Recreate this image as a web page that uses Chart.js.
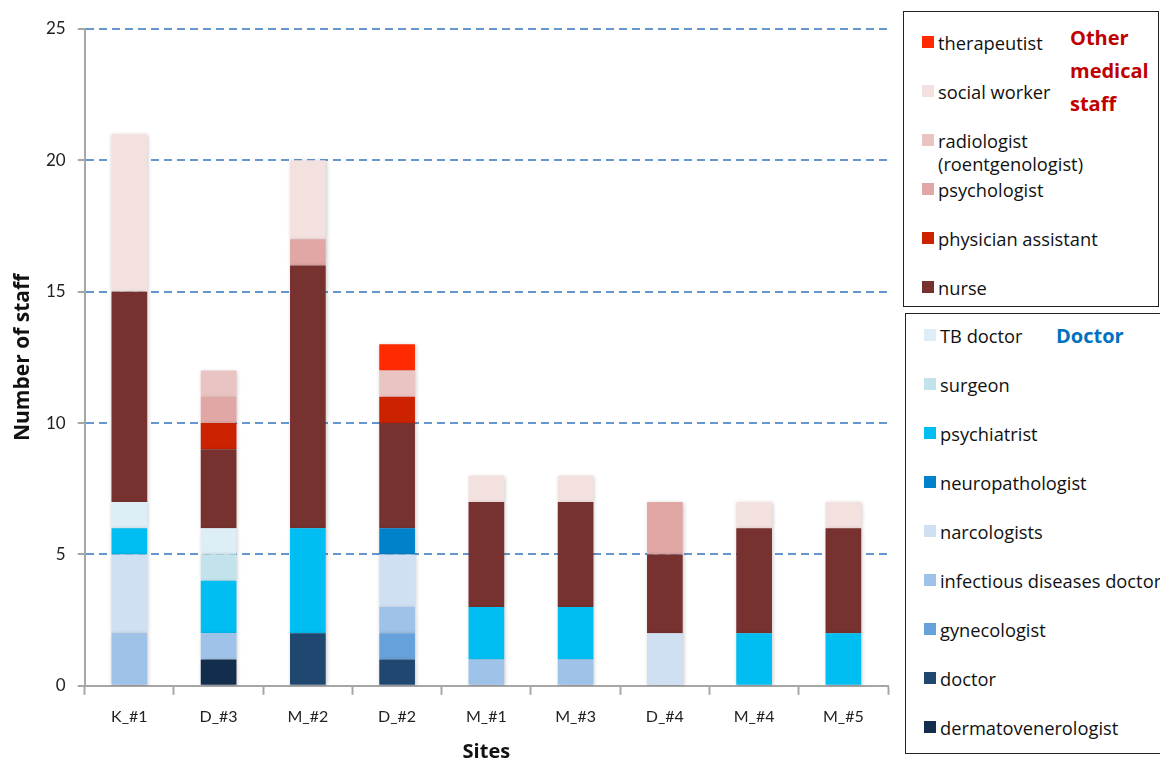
<!DOCTYPE html>
<html>
<head>
<meta charset="utf-8">
<script src="https://cdn.jsdelivr.net/npm/chart.js@4.4.1/dist/chart.umd.min.js"></script>
<style>
    body { margin: 0; background: #fff; font-family: "Open Sans", Lato, sans-serif; }
    #wrap { position: relative; width: 1160px; height: 760px; }
    #chart { position: absolute; left: 0; top: 0; }
    .legend-box {
        position: absolute;
        border: 1.5px solid #222;
        background: #fff;
        box-sizing: border-box;
        overflow: hidden;
    }
    .legend-item {
        position: absolute;
        left: 18px;
        font-size: 18.3px;
        color: #111;
        line-height: 23px;
        white-space: nowrap;
    }
    .legend-item i {
        position: absolute;
        left: 0;
        top: 5px;
        width: 12px;
        height: 12px;
    }
    .legend-item span { display: block; padding-left: 16px; }
    .group-title { position: absolute; font-weight: bold; font-size: 20px; line-height: 33px; }
</style>
</head>
<body>
<div id="wrap">
    <canvas id="chart" width="1160" height="760"></canvas>
    <div class="legend-box" id="legend-other" style="left:903px; top:11px; width:256px; height:296px;"></div>
    <div class="legend-box" id="legend-doctor" style="left:905px; top:313px; width:260px; height:441px;"></div>
</div>

<script>
// =========================================================================
// DATA
// =========================================================================

const sites = ['K_#1', 'D_#3', 'M_#2', 'D_#2', 'M_#1', 'M_#3', 'D_#4', 'M_#4', 'M_#5'];
const yTicks = [0, 5, 10, 15, 20, 25];

// doctors (bottom of each stack)
const dermatovenerologist = [0, 1, 0, 0, 0, 0, 0, 0, 0];
const doctor              = [0, 0, 2, 1, 0, 0, 0, 0, 0];
const gynecologist        = [0, 0, 0, 1, 0, 0, 0, 0, 0];
const infectiousDoctor    = [2, 1, 0, 1, 1, 1, 0, 0, 0];
const narcologists        = [3, 0, 0, 2, 0, 0, 2, 0, 0];
const neuropathologist    = [0, 0, 0, 1, 0, 0, 0, 0, 0];
const psychiatrist        = [1, 2, 4, 0, 2, 2, 0, 2, 2];
const surgeon             = [0, 1, 0, 0, 0, 0, 0, 0, 0];
const tbDoctor            = [1, 1, 0, 0, 0, 0, 0, 0, 0];

// other medical staff (top of each stack)
const nurse               = [8, 3, 10, 4, 4, 4, 3, 4, 4];
const physicianAssistant  = [0, 1, 0, 1, 0, 0, 0, 0, 0];
const psychologist        = [0, 1, 1, 0, 0, 0, 2, 0, 0];
const radiologist         = [0, 1, 0, 1, 0, 0, 0, 0, 0];
const socialWorker        = [6, 0, 3, 0, 1, 1, 0, 1, 1];
const therapeutist        = [0, 0, 0, 1, 0, 0, 0, 0, 0];

// stacking order, bottom to top
const doctorSeries = [
    { label: 'dermatovenerologist', data: dermatovenerologist, color: '#132D4C' },
    { label: 'doctor', data: doctor, color: '#1F4770' },
    { label: 'gynecologist', data: gynecologist, color: '#66A1DC' },
    { label: 'infectious diseases doctor', data: infectiousDoctor, color: '#9FC2E8' },
    { label: 'narcologists', data: narcologists, color: '#CFE0F2' },
    { label: 'neuropathologist', data: neuropathologist, color: '#0082CA' },
    { label: 'psychiatrist', data: psychiatrist, color: '#00BDF2' },
    { label: 'surgeon', data: surgeon, color: '#C2E3EC' },
    { label: 'TB doctor', data: tbDoctor, color: '#DEEEF7' }
];
const otherSeries = [
    { label: 'nurse', data: nurse, color: '#77312F' },
    { label: 'physician assistant', data: physicianAssistant, color: '#CC2200' },
    { label: 'psychologist', data: psychologist, color: '#E0A7A5' },
    { label: 'radiologist\n(roentgenologist)', data: radiologist, color: '#EAC4C3' },
    { label: 'social worker', data: socialWorker, color: '#F3E1E0' },
    { label: 'therapeutist', data: therapeutist, color: '#FF2A00' }
];

// =========================================================================
// LEGENDS (HTML, two framed boxes)
// =========================================================================

function buildLegend(boxId, series, firstTop, title, titleStyle) {
    const box = document.getElementById(boxId);
    const items = series.slice().reverse();
    items.forEach((s, i) => {
        const el = document.createElement('div');
        el.className = 'legend-item';
        el.style.top = (firstTop + i * 49) + 'px';
        const lines = s.label.split('\n').map(t => `<span>${t}</span>`).join('');
        el.innerHTML = `<i style="background:${s.color}"></i>${lines}`;
        box.appendChild(el);
    });
    const t = document.createElement('div');
    t.className = 'group-title';
    t.innerHTML = title;
    Object.assign(t.style, titleStyle);
    box.appendChild(t);
}

buildLegend('legend-other', otherSeries, 19, 'Other<br>medical<br>staff',
    { left: '166px', top: '9px', color: '#C00000' });
buildLegend('legend-doctor', doctorSeries, 10, 'Doctor',
    { left: '150px', top: '5px', color: '#0070C0' });

// =========================================================================
// CHART
// =========================================================================

const shadowPlugin = {
    id: 'barShadow',
    beforeDatasetsDraw(chart) {
        const ctx = chart.ctx;
        ctx.save();
        ctx.shadowColor = 'rgba(0,0,0,0.22)';
        ctx.shadowBlur = 4;
        ctx.shadowOffsetX = 1;
        ctx.shadowOffsetY = 1;
    },
    afterDatasetsDraw(chart) {
        chart.ctx.restore();
    }
};

const datasets = doctorSeries.concat(otherSeries).map(s => ({
    label: s.label,
    data: s.data,
    backgroundColor: s.color,
    borderWidth: 0,
    barPercentage: 0.8,
    categoryPercentage: 0.5
}));

new Chart(document.getElementById('chart').getContext('2d'), {
    type: 'bar',
    data: { labels: sites, datasets: datasets },
    plugins: [shadowPlugin],
    options: {
        responsive: false,
        animation: false,
        layout: { padding: { top: 29, right: 272, left: 13, bottom: -4 } },
        plugins: {
            legend: { display: false },
            tooltip: { enabled: false }
        },
        scales: {
            x: {
                stacked: true,
                grid: {
                    offset: true,
                    drawOnChartArea: false,
                    tickLength: 9,
                    tickColor: '#A6A6A6',
                    tickWidth: 2
                },
                border: { color: '#A6A6A6', width: 2 },
                ticks: { color: '#222', font: { family: 'Lato', size: 16 }, padding: 12 },
                title: {
                    display: true,
                    text: 'Sites',
                    color: '#111',
                    font: { family: 'Open Sans', size: 20, weight: 'bold' },
                    padding: { top: 2, bottom: 0 }
                }
            },
            y: {
                stacked: true,
                min: 0,
                max: 25,
                afterBuildTicks(axis) { axis.ticks = yTicks.map(v => ({ value: v })); },
                grid: {
                    color: c => (c.tick && c.tick.value === 0) ? 'rgba(0,0,0,0)' : '#6596CF',
                    lineWidth: 2,
                    tickBorderDash: [],
                    tickColor: '#A6A6A6',
                    tickLength: 7
                },
                border: { color: '#A6A6A6', width: 2, dash: [8, 5] },
                ticks: { color: '#222', font: { family: 'Lato', size: 17 }, padding: 12 },
                title: {
                    display: true,
                    text: 'Number of staff',
                    color: '#111',
                    font: { family: 'Open Sans', size: 21, weight: 'bold', lineHeight: 1 },
                    padding: { top: 0, bottom: 0 }
                }
            }
        }
    }
});
</script>
</body>
</html>
